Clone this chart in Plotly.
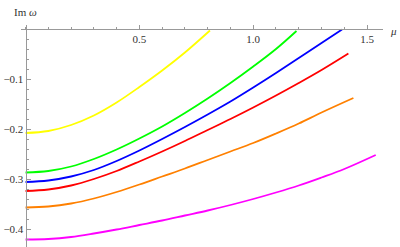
import plotly.graph_objects as go

mu_yellow = [0, 0.1, 0.2, 0.3, 0.4, 0.5, 0.6, 0.7, 0.81]
im_yellow = [-0.208, -0.204, -0.192, -0.173, -0.147, -0.116, -0.083, -0.047, -0.003]

mu_green = [0, 0.1, 0.2, 0.3, 0.4, 0.5, 0.6, 0.7, 0.8, 0.9, 1.0, 1.1, 1.19]
im_green = [-0.287, -0.284, -0.275, -0.260, -0.241, -0.219, -0.195, -0.168, -0.139, -0.108, -0.075, -0.040, -0.004]

mu_blue = [0, 0.1, 0.2, 0.3, 0.4, 0.5, 0.6, 0.7, 0.8, 0.9, 1.0, 1.1, 1.2, 1.3, 1.39]
im_blue = [-0.306, -0.303, -0.295, -0.282, -0.264, -0.243, -0.220, -0.196, -0.171, -0.145, -0.117, -0.088, -0.058, -0.028, -0.001]

mu_red = [0, 0.1, 0.2, 0.3, 0.4, 0.5, 0.6, 0.7, 0.8, 0.9, 1.0, 1.1, 1.2, 1.3, 1.418]
im_red = [-0.324, -0.321, -0.313, -0.300, -0.284, -0.265, -0.245, -0.224, -0.202, -0.180, -0.157, -0.133, -0.108, -0.082, -0.049]

mu_orange = [0, 0.1, 0.2, 0.3, 0.4, 0.5, 0.6, 0.7, 0.8, 0.9, 1.0, 1.1, 1.2, 1.3, 1.44]
im_orange = [-0.357, -0.355, -0.349, -0.339, -0.326, -0.311, -0.295, -0.279, -0.262, -0.245, -0.228, -0.209, -0.189, -0.167, -0.138]

mu_magenta = [0, 0.1, 0.2, 0.3, 0.4, 0.5, 0.6, 0.7, 0.8, 0.9, 1.0, 1.1, 1.2, 1.3, 1.4, 1.538]
im_magenta = [-0.421, -0.420, -0.416, -0.409, -0.401, -0.392, -0.383, -0.373, -0.363, -0.352, -0.340, -0.327, -0.313, -0.297, -0.280, -0.252]

x_tick_vals = [0.5, 1.0, 1.5]
x_tick_text = ["0.5", "1.0", "1.5"]
y_tick_vals = [-0.1, -0.2, -0.3, -0.4]
y_tick_text = ["\u22120.1", "\u22120.2", "\u22120.3", "\u22120.4"]

series = [
    (mu_yellow, im_yellow, "#FFFF00"),
    (mu_green, im_green, "#00FF00"),
    (mu_blue, im_blue, "#0000FF"),
    (mu_red, im_red, "#FF0000"),
    (mu_orange, im_orange, "#FF8000"),
    (mu_magenta, im_magenta, "#FF00FF"),
]

fig = go.Figure()
for xs, ys, c in series:
    fig.add_trace(go.Scatter(x=xs, y=ys, mode="lines",
                             line=dict(color=c, width=1.8, shape="spline", smoothing=1.0),
                             showlegend=False, hoverinfo="skip"))

xr = [-0.02, 1.57]
yr = [-0.436, 0.008]
axis_col = "#999999"
font = dict(family="Liberation Serif, serif", size=11, color="#333333")

fig.update_layout(
    width=400, height=247,
    margin=dict(l=21, r=17, t=25, b=0, autoexpand=False),
    paper_bgcolor="white", plot_bgcolor="white",
    font=font,
    xaxis=dict(range=xr, showgrid=False, zeroline=False, showline=True, linecolor=axis_col,
               linewidth=1, side="bottom", anchor="free", automargin=False,
               position=(0 - yr[0]) / (yr[1] - yr[0]),
               tickmode="array", tickvals=x_tick_vals, ticktext=x_tick_text,
               ticks="inside", ticklen=4, tickcolor=axis_col, tickfont=font,
               minor=dict(tickmode="linear", tick0=0, dtick=0.1, ticks="inside",
                          ticklen=2.5, tickcolor=axis_col, showgrid=False)),
    yaxis=dict(range=yr, showgrid=False, zeroline=False, showline=True, linecolor=axis_col,
               linewidth=1, side="left", anchor="free", automargin=False,
               position=(0 - xr[0]) / (xr[1] - xr[0]),
               tickmode="array", tickvals=y_tick_vals, ticktext=y_tick_text,
               ticks="inside", ticklen=4, tickcolor=axis_col, tickfont=font,
               minor=dict(tickmode="linear", tick0=0, dtick=0.02, ticks="inside",
                          ticklen=2.5, tickcolor=axis_col, showgrid=False)),
    annotations=[
        dict(text="Im <i>ω</i>", xref="paper", yref="paper", x=-9/362, y=1 + 13/222,
             xanchor="left", yanchor="middle", showarrow=False, font=font),
        dict(text="<i>μ</i>", xref="paper", yref="paper", x=1 + 5/362, y=(0 - yr[0]) / (yr[1] - yr[0]) - 2/222,
             xanchor="left", yanchor="middle", showarrow=False, font=font),
    ],
)

fig.write_html("out.html", config={"displayModeBar": False},
               post_script="document.body.style.margin='0';")
